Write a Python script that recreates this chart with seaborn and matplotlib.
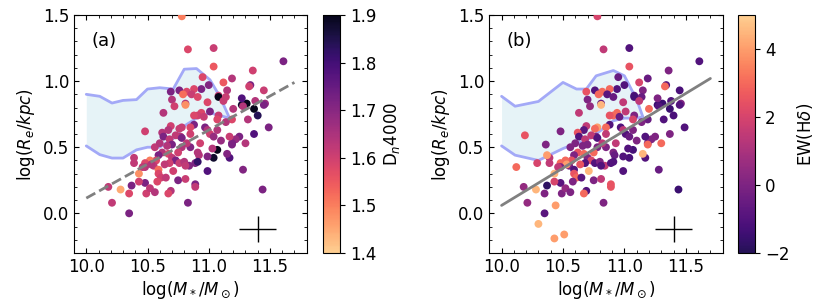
"""
Size-mass relation of the sample, coloured by Dn4000 (a) and EW(Hdelta) (b).
"""
import numpy as np
import matplotlib
matplotlib.use('Agg')
import matplotlib.pyplot as plt
from matplotlib.colors import ListedColormap, Normalize
from matplotlib.cm import ScalarMappable
from matplotlib.ticker import MultipleLocator
import seaborn as sns

sns.set_style('ticks', rc={'axes.edgecolor': 'black', 'text.color': 'black',
                           'axes.labelcolor': 'black', 'xtick.color': 'black',
                           'ytick.color': 'black'})
plt.rcParams['font.family'] = ['DejaVu Sans']
plt.rcParams['font.size'] = 12
plt.rcParams['mathtext.fontset'] = 'dejavusans'

# galaxies shown in both panels
mass = [10.78, 10.83, 11.04, 11.04, 10.95, 11.12, 11.19, 11.36, 11.61, 11.34,
        11.33, 11.45, 11.15, 11.00, 10.94, 10.88, 10.82, 10.76, 10.69, 10.79,
        10.86, 10.91, 10.70, 10.72, 10.81, 10.81, 10.99, 11.08, 11.08, 11.14,
        11.12, 11.31, 11.37, 11.27, 11.28, 11.20, 11.27, 11.38, 11.46, 11.45,
        11.40, 11.32, 11.49, 11.37, 11.30, 11.28, 11.44, 11.25, 11.22, 11.19,
        11.17, 11.19, 11.14, 11.08, 11.07, 11.01, 10.94, 10.91, 10.88, 10.96,
        10.88, 10.85, 10.78, 10.76, 10.69, 10.67, 10.63, 10.48, 10.62, 10.63,
        10.68, 10.77, 10.73, 10.78, 10.85, 10.97, 10.99, 11.01, 11.07, 11.04,
        11.10, 11.17, 11.19, 11.15, 11.07, 11.04, 10.99, 11.03, 10.93, 10.91,
        10.92, 10.85, 10.82, 10.78, 10.75, 10.70, 10.66, 10.62, 10.59, 10.56,
        10.60, 10.67, 10.70, 10.73, 10.68, 10.64, 10.76, 10.84, 10.89, 10.91,
        10.99, 10.80, 10.81, 10.71, 10.57, 10.55, 10.52, 10.48, 10.53, 10.48,
        10.59, 10.59, 10.61, 10.58, 10.65, 10.75, 10.81, 10.89, 10.89, 10.69,
        10.67, 10.49, 10.48, 10.52, 10.56, 10.43, 10.43, 10.39, 10.39, 10.37,
        10.35, 10.28, 10.18, 10.21, 10.35, 10.83, 10.46]
size = [1.49, 1.24, 1.25, 1.11, 1.03, 0.99, 1.02, 1.08, 1.15, 0.97,
        0.96, 0.93, 0.93, 0.97, 0.94, 0.94, 0.92, 0.93, 0.92, 0.90,
        0.90, 0.88, 0.86, 0.81, 0.83, 0.82, 0.84, 0.89, 0.88, 0.88,
        0.85, 0.83, 0.79, 0.82, 0.81, 0.79, 0.87, 0.85, 0.83, 0.82,
        0.74, 0.71, 0.65, 0.60, 0.53, 0.33, 0.18, 0.58, 0.56, 0.53,
        0.42, 0.71, 0.69, 0.74, 0.71, 0.77, 0.76, 0.74, 0.74, 0.73,
        0.67, 0.65, 0.65, 0.64, 0.66, 0.63, 0.76, 0.62, 0.61, 0.58,
        0.56, 0.58, 0.59, 0.57, 0.60, 0.65, 0.63, 0.60, 0.63, 0.58,
        0.55, 0.58, 0.52, 0.45, 0.48, 0.42, 0.43, 0.49, 0.53, 0.46,
        0.44, 0.50, 0.53, 0.50, 0.46, 0.52, 0.51, 0.46, 0.44, 0.50,
        0.53, 0.45, 0.42, 0.40, 0.38, 0.37, 0.38, 0.36, 0.38, 0.39,
        0.32, 0.39, 0.36, 0.32, 0.40, 0.36, 0.40, 0.38, 0.37, 0.35,
        0.33, 0.30, 0.27, 0.24, 0.27, 0.25, 0.26, 0.22, 0.20, 0.17,
        0.15, 0.15, 0.23, 0.19, 0.16, 0.24, 0.30, 0.42, 0.38, 0.21,
        0.15, 0.18, 0.20, 0.08, 0.00, 0.08, 0.35]
dn4000 = [1.50, 1.58, 1.61, 1.55, 1.58, 1.55, 1.64, 1.60, 1.72, 1.72,
          1.60, 1.61, 1.64, 1.71, 1.72, 1.58, 1.58, 1.72, 1.72, 1.52,
          1.61, 1.58, 1.64, 1.60, 1.64, 1.48, 1.58, 1.61, 1.90, 1.61,
          1.61, 1.90, 1.90, 1.88, 1.64, 1.64, 1.78, 1.64, 1.68, 1.72,
          1.84, 1.64, 1.72, 1.78, 1.64, 1.71, 1.72, 1.72, 1.68, 1.72,
          1.78, 1.58, 1.64, 1.61, 1.58, 1.72, 1.58, 1.60, 1.58, 1.61,
          1.72, 1.58, 1.61, 1.61, 1.60, 1.64, 1.64, 1.60, 1.64, 1.72,
          1.62, 1.64, 1.62, 1.72, 1.60, 1.72, 1.64, 1.60, 1.64, 1.68,
          1.68, 1.61, 1.72, 1.71, 1.90, 1.88, 1.71, 1.64, 1.60, 1.64,
          1.64, 1.71, 1.62, 1.64, 1.60, 1.72, 1.64, 1.64, 1.72, 1.62,
          1.64, 1.58, 1.62, 1.72, 1.60, 1.62, 1.61, 1.71, 1.72, 1.82,
          1.78, 1.64, 1.62, 1.60, 1.58, 1.62, 1.50, 1.58, 1.64, 1.64,
          1.52, 1.58, 1.60, 1.58, 1.62, 1.72, 1.61, 1.72, 1.62, 1.64,
          1.58, 1.60, 1.72, 1.62, 1.64, 1.60, 1.48, 1.62, 1.62, 1.72,
          1.58, 1.45, 1.62, 1.62, 1.72, 1.72, 1.62]
ew_hd = [2.0, 1.5, -1.0, 2.5, -0.5, 2.0, -0.5, 0.0, -1.0, -0.8,
         3.0, -1.2, 0.0, -1.0, -1.0, 3.0, 3.0, -1.0, 2.5, 3.0,
         -0.8, -0.5, 0.0, 0.5, -0.5, 4.5, 1.5, -1.0, -1.3, -0.5,
         1.5, -1.5, -1.5, -1.5, -1.0, 3.0, 0.0, -1.0, 0.0, -1.0,
         -1.2, -1.0, -1.0, 0.0, 3.0, -0.5, -1.5, 0.0, 0.0, 0.0,
         -1.0, -0.5, 0.0, 0.0, 2.0, 1.5, 3.0, 3.0, 2.5, -0.5,
         -1.0, 3.0, 4.0, 3.0, 1.5, -0.8, 1.5, 0.0, 2.5, -1.0,
         1.5, 0.0, 1.5, -1.0, 1.5, -1.0, 1.5, -1.0, 0.0, -0.5,
         0.0, -1.0, 3.0, 4.5, -1.3, -1.2, -1.0, -1.0, 1.5, 0.0,
         -0.5, 0.0, 1.5, 0.0, 3.0, 0.0, 0.0, 2.5, 0.0, 0.0,
         0.0, 3.0, 0.0, 2.0, -1.0, 2.5, -1.0, 1.5, -1.0, -1.0,
         -1.0, 0.0, -1.0, 4.5, 2.5, 0.0, 3.0, 3.0, 4.0, 0.0,
         -1.0, 2.5, 3.0, 0.0, -0.8, 0.0, 1.5, 2.5, 2.5, -1.0,
         3.0, 0.0, -0.8, 0.5, 0.0, 2.0, 4.5, 1.5, 1.5, -1.8,
         0.0, 4.5, 0.5, 0.5, -0.8, 0.0, 1.5]

# galaxies only in panel (b)
mass_b_only = [10.30, 10.43, 10.51, 10.12, 10.19, 10.29, 10.37, 10.44, 10.36]
size_b_only = [-0.08, -0.19, -0.16, 0.35, 0.59, 0.38, 0.44, 0.06, 0.52]
ew_b_only = [4.5, 4.0, 4.0, 3.0, 2.5, 2.0, 4.0, 4.0, 0.0]

# comparison band (late-type relation)
band_x_a = [10.0, 10.11, 10.21, 10.3, 10.41, 10.5, 10.6, 10.71, 10.8, 10.9, 11.01, 11.09, 11.17]
band_hi_a = [0.90, 0.885, 0.834, 0.854, 0.86, 0.94, 0.95, 0.94, 1.09, 1.095, 1.01, 0.885, 0.72]
band_lo_a = [0.51, 0.444, 0.418, 0.418, 0.48, 0.50, 0.50, 0.565, 0.66, 0.72, 0.76, 0.74, 0.72]
band_x_b = [10.0, 10.11, 10.3, 10.5, 10.61, 10.69, 10.77, 10.91, 11.0, 11.1, 11.15]
band_hi_b = [0.885, 0.81, 0.846, 0.99, 0.94, 0.94, 1.04, 1.08, 1.04, 0.86, 0.73]
band_lo_b = [0.51, 0.44, 0.40, 0.49, 0.53, 0.55, 0.60, 0.70, 0.72, 0.72, 0.73]

# best-fit lines
fit_x = [10.0, 11.7]
fit_a = [0.115, 0.99]
fit_b = [0.06, 1.02]

# typical error
err_x, err_y = 11.4, -0.12
err_dx, err_dy = 0.15, 0.1

magma = plt.get_cmap('magma')
cmap_b = ListedColormap(magma(np.linspace(0.15, 0.9, 256)))
cmap_a = ListedColormap(magma(np.linspace(0.05, 0.9, 256))[::-1])
norm_a = Normalize(1.4, 1.9)
norm_b = Normalize(-2, 5)

fig = plt.figure(figsize=(8.3, 3.06), dpi=100)
ax_a = fig.add_axes([0.0892, 0.1732, 0.2803, 0.7778])
cax_a = fig.add_axes([0.3896, 0.1732, 0.0205, 0.7778])
ax_b = fig.add_axes([0.5895, 0.1732, 0.2812, 0.7778])
cax_b = fig.add_axes([0.8896, 0.1732, 0.0205, 0.7778])

panels = [
    (ax_a, cax_a, mass, size, dn4000, cmap_a, norm_a, band_x_a, band_lo_a, band_hi_a,
     fit_a, '--', '(a)', r'D$_n$4000', [1.4, 1.5, 1.6, 1.7, 1.8, 1.9]),
    (ax_b, cax_b, mass + mass_b_only, size + size_b_only, ew_hd + ew_b_only, cmap_b, norm_b,
     band_x_b, band_lo_b, band_hi_b, fit_b, '-', '(b)', r'EW(H$\delta$)', [-2, 0, 2, 4]),
]

for ax, cax, x, y, c, cmap, norm, bx, blo, bhi, fit, ls, tag, clabel, cticks in panels:
    ax.fill_between(bx, blo, bhi, color='lightblue', alpha=0.3, lw=0)
    sns.lineplot(x=bx, y=bhi, ax=ax, color='#a3a9f7', lw=2)
    sns.lineplot(x=bx, y=blo, ax=ax, color='#a3a9f7', lw=2)
    sns.scatterplot(x=x, y=y, hue=c, palette=cmap, hue_norm=norm, ax=ax,
                    s=32, linewidth=0, legend=False, zorder=3)
    sns.lineplot(x=fit_x, y=fit, ax=ax, color='gray', lw=2, linestyle=ls, zorder=4)
    ax.errorbar(err_x, err_y, xerr=err_dx, yerr=err_dy, color='k', lw=1)

    ax.set_xlim(9.9, 11.8)
    ax.set_ylim(-0.3, 1.5)
    ax.set_xticks([10.0, 10.5, 11.0, 11.5])
    ax.set_yticks([0.0, 0.5, 1.0, 1.5])
    ax.xaxis.set_minor_locator(MultipleLocator(0.1))
    ax.yaxis.set_minor_locator(MultipleLocator(0.1))
    ax.tick_params(which='both', direction='in', top=True, right=True, labelsize=12)
    ax.set_xlabel(r'log($M_*/M_\odot$)', fontsize=12, labelpad=2)
    ax.set_ylabel(r'log($R_e/kpc$)', fontsize=12)
    ax.text(0.075, 0.89, tag, transform=ax.transAxes, fontsize=13, va='center')

    cb = fig.colorbar(ScalarMappable(norm=norm, cmap=cmap), cax=cax)
    cb.set_ticks(cticks)
    cb.ax.tick_params(labelsize=12)
    cb.set_label(clabel, fontsize=12)

fig.savefig('out.png', dpi=100)
